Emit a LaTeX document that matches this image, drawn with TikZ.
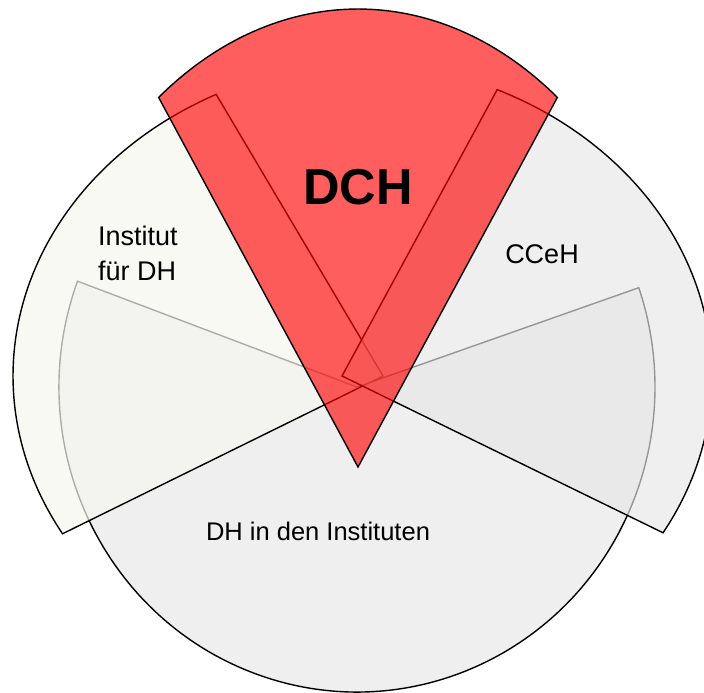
\documentclass[tikz,border=0pt]{standalone}
\usepackage{fontspec}
\setmainfont{Liberation Sans}
\definecolor{dhgray}{RGB}{239,239,239}
\definecolor{instivory}{RGB}{246,246,240}
\definecolor{ccehgray}{RGB}{231,231,231}
\definecolor{dchred}{RGB}{255,0,0}
\begin{document}
\begin{tikzpicture}[x=1pt,y=1pt,
  edge/.style={draw=black, line width=1.4pt, line join=miter},
  dhsec/.style={edge, fill=dhgray},
  instsec/.style={edge, fill=instivory, fill opacity=0.7},
  ccehsec/.style={edge, fill=ccehgray, fill opacity=0.65},
  dchsec/.style={edge, fill=dchred, fill opacity=0.63},
  lbl/.style={inner sep=0pt, text=black, font=\fontsize{27}{35}\selectfont},
  dhlbl/.style={inner sep=0pt, text=black, font=\fontsize{25.5}{30}\selectfont},
  biglbl/.style={inner sep=0pt, text=black, font=\fontsize{50.5}{60}\selectfont\bfseries}
]
\useasboundingbox (0,0) rectangle (704,-693);
\coordinate (dhc) at (357,-387);
\coordinate (instc) at (383,-376);
\coordinate (ccehc) at (342,-376);
\coordinate (dchc) at (358,-467);

% DH in den Instituten (bottom)
\path[dhsec] (dhc) -- +(159.7:298pt and 305pt)
  arc[start angle=159.7, end angle=379, x radius=298pt, y radius=305pt] -- cycle;
% Institut fuer DH
\path[instsec] (instc) -- +(116.8:370pt and 315.5pt)
  arc[start angle=116.8, end angle=210, x radius=370pt, y radius=315.5pt] -- cycle;
% CCeH
\path[ccehsec] (ccehc) -- +(-29.8:370pt and 315.5pt)
  arc[start angle=-29.8, end angle=65.2, x radius=370pt, y radius=315.5pt] -- cycle;
% DCH (top)
\path[dchsec] (dchc) -- +(53.8:337.6pt and 458pt)
  arc[start angle=53.8, end angle=126.2, x radius=337.6pt, y radius=458pt] -- cycle;

\node[biglbl, anchor=base] (dch) at (358,-204) {DCH};
\node[lbl, anchor=north west, align=left] (inst) at (98,-226) {Institut\\für DH};
\node[lbl, anchor=base] (cceh) at (542,-263) {CCeH};
\node[dhlbl, anchor=base] (dhi) at (318,-540) {DH in den Instituten};
\end{tikzpicture}
\end{document}
